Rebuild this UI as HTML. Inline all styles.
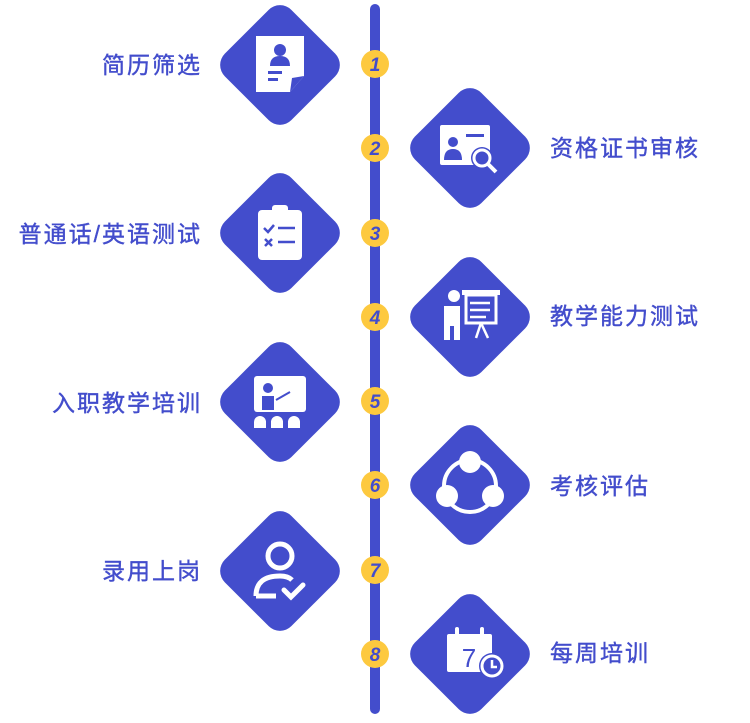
<!DOCTYPE html>
<html><head><meta charset="utf-8"><style>
body{margin:0;width:750px;height:723px;background:#fff;position:relative;overflow:hidden;font-family:"Liberation Sans","Noto Sans CJK SC",sans-serif}
.t{position:absolute;font-size:23px;color:#434dcc;line-height:30px;white-space:nowrap;letter-spacing:2px;-webkit-text-stroke:0.4px #434dcc}
.l{right:548px;text-align:right}
.r{left:550px}
</style></head><body>
<svg width="750" height="723" style="position:absolute;left:0;top:0">
<defs>
<g id="dia"><rect x="-47" y="-47" width="94" height="94" rx="16" fill="#434dcc" transform="rotate(45)"/></g>
</defs>
<rect x="370" y="4" width="10" height="710" rx="5" fill="#434dcc"/>
<use href="#dia" x="280" y="65"/><use href="#dia" x="470" y="148"/>
<use href="#dia" x="280" y="233"/><use href="#dia" x="470" y="317"/>
<use href="#dia" x="280" y="402"/><use href="#dia" x="470" y="485"/>
<use href="#dia" x="280" y="571"/><use href="#dia" x="470" y="654"/>
<g font-family="Liberation Sans,sans-serif" font-style="italic" font-weight="bold" font-size="19" fill="#434dcc" text-anchor="middle">
<g fill="#fdc93f"><circle cx="375" cy="64" r="14"/><circle cx="375" cy="148" r="14"/><circle cx="375" cy="233" r="14"/><circle cx="375" cy="317" r="14"/><circle cx="375" cy="401" r="14"/><circle cx="375" cy="485" r="14"/><circle cx="375" cy="570" r="14"/><circle cx="375" cy="654" r="14"/></g>
<text x="375" y="71">1</text><text x="375" y="155">2</text><text x="375" y="240">3</text><text x="375" y="324">4</text><text x="375" y="408">5</text><text x="375" y="492">6</text><text x="375" y="577">7</text><text x="375" y="661">8</text>
</g>
<g fill="#fff" stroke="none">
<path d="M256 36h48v40l-14 16h-34z"/><path d="M292 78l12-2-14 16z" fill="#434dcc"/>
<circle cx="280" cy="50" r="6" fill="#434dcc"/><path d="M270 66q0-10 10-10t10 10z" fill="#434dcc"/>
<rect x="268" y="71" width="14" height="3" fill="#434dcc"/><rect x="268" y="78" width="10" height="3" fill="#434dcc"/>
<rect x="440" y="125" width="50" height="40" rx="2"/>
<circle cx="453" cy="142" r="5" fill="#434dcc"/><path d="M444 160q0-11 9-11t9 11z" fill="#434dcc"/>
<rect x="466" y="134" width="18" height="3" fill="#434dcc"/>
<circle cx="482" cy="158" r="11" fill="#434dcc"/><circle cx="482" cy="158" r="8" fill="none" stroke="#fff" stroke-width="3"/>
<line x1="488" y1="164" x2="496" y2="172" stroke="#fff" stroke-width="4"/>
<rect x="258" y="210" width="44" height="50" rx="4"/><rect x="272" y="205" width="16" height="8" rx="3"/>
<g stroke="#434dcc" stroke-width="2.5" fill="none"><path d="M264 228l4 4 6-7"/><path d="M265 239l7 7M272 239l-7 7"/><line x1="278" y1="228" x2="295" y2="228"/><line x1="278" y1="242" x2="295" y2="242"/></g>
<circle cx="454" cy="296" r="6"/><path d="M444 306h16v34h-6v-14h-4v14h-6z"/>
<rect x="462" y="290" width="38" height="5"/><rect x="466" y="295" width="30" height="28" fill="none" stroke="#fff" stroke-width="3"/>
<g stroke="#fff" stroke-width="2.5"><line x1="470" y1="303" x2="490" y2="303"/><line x1="470" y1="310" x2="490" y2="310"/><line x1="470" y1="317" x2="486" y2="317"/><line x1="481" y1="323" x2="476" y2="338"/><line x1="481" y1="323" x2="488" y2="338"/></g>
<rect x="254" y="376" width="52" height="36" rx="3"/><circle cx="268" cy="388" r="5" fill="#434dcc"/><path d="M262 410v-14h12v14z" fill="#434dcc"/><line x1="276" y1="400" x2="290" y2="392" stroke="#434dcc" stroke-width="2"/>
<path d="M254 428v-6a6 6 0 0 1 12 0v6zM271 428v-6a6 6 0 0 1 12 0v6zM288 428v-6a6 6 0 0 1 12 0v6z"/>
<circle cx="470" cy="486" r="26" fill="none" stroke="#fff" stroke-width="4"/>
<circle cx="470" cy="462" r="11"/><circle cx="447" cy="496" r="11"/><circle cx="493" cy="496" r="11"/>
<circle cx="280" cy="556" r="12" fill="none" stroke="#fff" stroke-width="5"/>
<path d="M256 596q0-20 24-20q8 0 12 4" fill="none" stroke="#fff" stroke-width="5"/><line x1="256" y1="596" x2="276" y2="596" stroke="#fff" stroke-width="5"/>
<path d="M284 590l7 7 12-12" fill="none" stroke="#fff" stroke-width="5" stroke-linecap="round"/>
<rect x="447" y="634" width="45" height="38" rx="2"/><rect x="455" y="627" width="4" height="10" rx="2"/><rect x="480" y="627" width="4" height="10" rx="2"/>
<text x="469" y="667" font-family="Liberation Sans,sans-serif" font-size="26" fill="#434dcc" text-anchor="middle">7</text>
<circle cx="492" cy="666" r="13" fill="#434dcc"/><circle cx="492" cy="666" r="10" fill="none" stroke="#fff" stroke-width="3"/><path d="M492 660v7h5" fill="none" stroke="#fff" stroke-width="2.5"/>
</g>
</svg>
<div class="t l" style="top:50px">简历筛选</div>
<div class="t r" style="top:133px">资格证书审核</div>
<div class="t l" style="top:219px">普通话/英语测试</div>
<div class="t r" style="top:301px">教学能力测试</div>
<div class="t l" style="top:388px">入职教学培训</div>
<div class="t r" style="top:471px">考核评估</div>
<div class="t l" style="top:556px">录用上岗</div>
<div class="t r" style="top:638px">每周培训</div>
</body></html>
